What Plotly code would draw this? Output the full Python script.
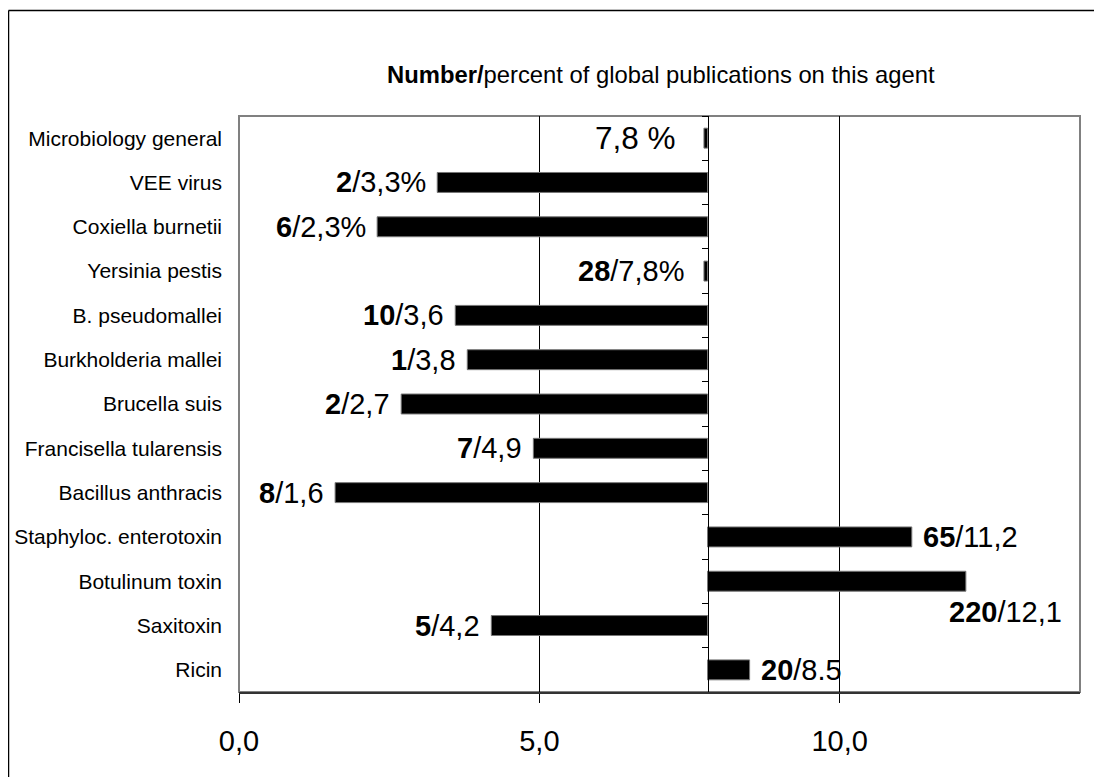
import plotly.graph_objects as go

# ---- data ----
categories = [
    "Microbiology general", "VEE virus", "Coxiella burnetii", "Yersinia pestis",
    "B. pseudomallei", "Burkholderia mallei", "Brucella suis",
    "Francisella tularensis", "Bacillus anthracis", "Staphyloc. enterotoxin",
    "Botulinum toxin", "Saxitoxin", "Ricin",
]
percent = [7.74, 3.3, 2.3, 7.74, 3.6, 3.8, 2.7, 4.9, 1.6, 11.2, 12.1, 4.2, 8.5]
counts = [None, 2, 6, 28, 10, 1, 2, 7, 8, 65, 220, 5, 20]
pct_labels = ["7,8 %", "3,3%", "2,3%", "7,8%", "3,6", "3,8", "2,7", "4,9",
              "1,6", "11,2", "12,1", "4,2", "8.5"]
BASE = 7.8
x_tickvals = [0, 5, 10]
x_ticktext = ["0,0", "5,0", "10,0"]
title_bold = "Number/"
title_rest = "percent of global publications on this agent"

FONT = "Liberation Sans, Arial, sans-serif"
OFF = 8  # page body margin
W, H = 1102 - OFF, 777 - OFF
L, R, T, B = 239 - OFF, 22, 116 - OFF, 85
XMAX = 14
pw, ph = W - L - R, H - T - B


def px_x(x):  # reference pixel -> paper x
    return (x - OFF - L) / pw


def px_y(y):  # reference pixel -> paper y
    return (H - B - (y - OFF)) / ph


fig = go.Figure()
fig.add_trace(go.Bar(
    y=categories,
    x=[p - BASE for p in percent],
    base=BASE,
    orientation="h",
    width=0.45,
    marker=dict(color="black", line=dict(color="#777777", width=1)),
    showlegend=False,
    hoverinfo="skip",
))
# invisible trace for the left label axis
fig.add_trace(go.Scatter(
    y=categories, x=[BASE] * len(categories), yaxis="y2",
    mode="markers", marker=dict(opacity=0), showlegend=False, hoverinfo="skip",
))

# value labels
for cat, p, c, lab in zip(categories, percent, counts, pct_labels):
    txt = (f"<b>{c}</b>/{lab}" if c is not None else lab)
    left = p < BASE
    size = 29
    xshift = -9 if left else 9
    yshift = 0
    xanchor = "right" if left else "left"
    if c is None:
        size = 31.5
        xshift = -26
    if cat == "Yersinia pestis":
        xshift = -18
    if cat == "Botulinum toxin":
        xshift = -19
        yshift = -31
    fig.add_annotation(
        x=p, y=cat, text=txt, showarrow=False, xanchor=xanchor, yanchor="middle",
        xshift=xshift, yshift=yshift,
        font=dict(family=FONT, size=size, color="black"),
    )

# title
fig.add_annotation(
    xref="paper", yref="paper", x=px_x(661), y=px_y(75),
    text=f"<b>{title_bold}</b>{title_rest}", showarrow=False,
    xanchor="center", yanchor="middle",
    font=dict(family=FONT, size=23.8, color="black"),
)

# plot area gray border
fig.add_shape(type="rect", xref="paper", yref="paper", x0=0, x1=1, y0=0, y1=1,
              line=dict(color="#808080", width=2), layer="below")
# outer chart frame: only its top and left edges are inside the picture
frame = dict(color="black", width=1.5)
fig.add_shape(type="line", xref="paper", yref="paper",
              x0=px_x(8.5), x1=1 + R / pw, y0=px_y(10.5), y1=px_y(10.5),
              line=frame, layer="below")
fig.add_shape(type="line", xref="paper", yref="paper",
              x0=px_x(8.5), x1=px_x(8.5), y0=px_y(10.5), y1=-B / ph,
              line=frame, layer="below")

fig.update_layout(
    width=W, height=H,
    margin=dict(l=L, r=R, t=T, b=B, pad=0, autoexpand=False),
    paper_bgcolor="white", plot_bgcolor="white",
    bargap=0.55,
    font=dict(family=FONT, color="black"),
    xaxis=dict(
        range=[0, XMAX], tickvals=x_tickvals, ticktext=x_ticktext,
        showgrid=True, gridcolor="black", gridwidth=1,
        ticks="outside", ticklen=9, tickcolor="black", tickwidth=1,
        showline=True, linecolor="#333333", linewidth=2,
        zeroline=False, tickfont=dict(size=29, family=FONT),
        ticklabelstandoff=13, automargin=False,
    ),
    yaxis=dict(
        type="category", categoryorder="array", categoryarray=categories,
        range=[len(categories) - 0.5, -0.5],
        anchor="free", position=BASE / XMAX, side="left",
        showticklabels=False, ticks="outside", ticklen=6, tickcolor="black",
        tickson="boundaries", showline=True, linecolor="black", linewidth=1,
        showgrid=False, zeroline=False, automargin=False,
    ),
    yaxis2=dict(
        type="category", categoryorder="array", categoryarray=categories,
        range=[len(categories) - 0.5, -0.5],
        overlaying="y", anchor="x", side="left",
        showline=False, ticks="", showgrid=False, zeroline=False,
        tickfont=dict(size=21, family=FONT), ticklabelstandoff=16,
        automargin=False,
    ),
)

fig.write_html("out.html")
